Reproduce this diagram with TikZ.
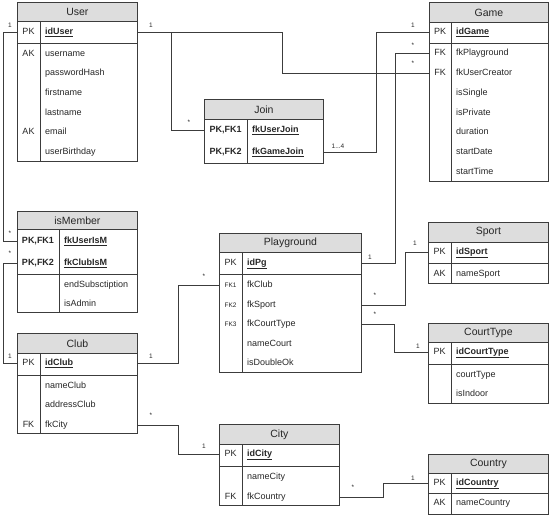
\documentclass[tikz,border=0pt]{standalone}
\usepackage{fontspec}
\setmainfont{Liberation Sans}
\usepackage{tikz}
\definecolor{headgray}{HTML}{DDDDDD}
\definecolor{linegray}{HTML}{3C3C3C}

\begin{document}
\begin{tikzpicture}
  [x=1pt,y=-1pt,every node/.style={inner sep=0pt,text=black!85},
   head/.style={draw=linegray,fill=headgray,anchor=north west,line width=0.8pt,font=\fontsize{10.5}{12}\selectfont},
   fld/.style={anchor=west,font=\fontsize{9}{10}\selectfont,text height=6.5pt,text depth=2pt},
   key/.style={font=\fontsize{9}{10}\selectfont,text height=6.5pt,text depth=2pt},
   fkey/.style={font=\fontsize{6.5}{7}\selectfont},
   mult/.style={font=\fontsize{6.5}{7}\selectfont},
   frame/.style={draw=linegray,line width=0.8pt},
   rel/.style={draw=linegray,line width=0.8pt}]
  \useasboundingbox (0,0) rectangle (553,515);

  % User
  \node[head,minimum width=120,minimum height=19] (user) at (17,2) {User};
  \draw[frame] (user.south west) rectangle (137,161);
  \draw[frame] (17,43) -- (137,43);
  \draw[frame] (40,21) -- (40,161);
  \node[key] (userk1) at (28.5,32) {PK};
  \node[fld] (user1) at (45,32) {\underline{\textbf{idUser}}};
  \node[key] (userk2) at (28.5,54) {AK};
  \node[fld] (user2) at (45,54) {username};
  \node[fld] (user3) at (45,73) {passwordHash};
  \node[fld] (user4) at (45,93) {firstname};
  \node[fld] (user5) at (45,113) {lastname};
  \node[key] (userk6) at (28.5,132) {AK};
  \node[fld] (user6) at (45,132) {email};
  \node[fld] (user7) at (45,152) {userBirthday};

  % Game
  \node[head,minimum width=119,minimum height=20] (game) at (429,2) {Game};
  \draw[frame] (game.south west) rectangle (548,181);
  \draw[frame] (429,43) -- (548,43);
  \draw[frame] (451,22) -- (451,181);
  \node[key] (gamek1) at (440,32) {PK};
  \node[fld] (game1) at (456,32) {\underline{\textbf{idGame}}};
  \node[key] (gamek2) at (440,53) {FK};
  \node[fld] (game2) at (456,53) {fkPlayground};
  \node[key] (gamek3) at (440,73) {FK};
  \node[fld] (game3) at (456,73) {fkUserCreator};
  \node[fld] (game4) at (456,93) {isSingle};
  \node[fld] (game5) at (456,113) {isPrivate};
  \node[fld] (game6) at (456,132) {duration};
  \node[fld] (game7) at (456,152) {startDate};
  \node[fld] (game8) at (456,172) {startTime};

  % Join
  \node[head,minimum width=119,minimum height=20] (join) at (204,99) {Join};
  \draw[frame] (join.south west) rectangle (323,163);
  \draw[frame] (247,119) -- (247,163);
  \node[key] (joink1) at (225.5,130) {\textbf{PK,FK1}};
  \node[fld] (join1) at (252,130) {\underline{\textbf{fkUserJoin}}};
  \node[key] (joink2) at (225.5,152) {\textbf{PK,FK2}};
  \node[fld] (join2) at (252,152) {\underline{\textbf{fkGameJoin}}};

  % isMember
  \node[head,minimum width=120,minimum height=18] (member) at (17,211) {isMember};
  \draw[frame] (member.south west) rectangle (137,312);
  \draw[frame] (17,274) -- (137,274);
  \draw[frame] (59,229) -- (59,312);
  \node[key] (memberk1) at (38,241) {\textbf{PK,FK1}};
  \node[fld] (member1) at (64,241) {\underline{\textbf{fkUserIsM}}};
  \node[key] (memberk2) at (38,263) {\textbf{PK,FK2}};
  \node[fld] (member2) at (64,263) {\underline{\textbf{fkClubIsM}}};
  \node[fld] (member3) at (64,285) {endSubsctiption};
  \node[fld] (member4) at (64,304) {isAdmin};

  % Club
  \node[head,minimum width=120,minimum height=20] (club) at (17,333) {Club};
  \draw[frame] (club.south west) rectangle (137,433);
  \draw[frame] (17,375) -- (137,375);
  \draw[frame] (40,353) -- (40,433);
  \node[key] (clubk1) at (28.5,363) {PK};
  \node[fld] (club1) at (45,363) {\underline{\textbf{idClub}}};
  \node[fld] (club2) at (45,386) {nameClub};
  \node[fld] (club3) at (45,405) {addressClub};
  \node[key] (clubk4) at (28.5,425) {FK};
  \node[fld] (club4) at (45,425) {fkCity};

  % Playground
  \node[head,minimum width=142,minimum height=19] (pg) at (219,233) {Playground};
  \draw[frame] (pg.south west) rectangle (361,372);
  \draw[frame] (219,274) -- (361,274);
  \draw[frame] (242,252) -- (242,372);
  \node[key] (pgk1) at (230.5,263) {PK};
  \node[fld] (pg1) at (247,263) {\underline{\textbf{idPg}}};
  \node[fkey] (pgk2) at (230.5,285) {FK1};
  \node[fld] (pg2) at (247,285) {fkClub};
  \node[fkey] (pgk3) at (230.5,305) {FK2};
  \node[fld] (pg3) at (247,305) {fkSport};
  \node[fkey] (pgk4) at (230.5,324) {FK3};
  \node[fld] (pg4) at (247,324) {fkCourtType};
  \node[fld] (pg5) at (247,344) {nameCourt};
  \node[fld] (pg6) at (247,363) {isDoubleOk};

  % Sport
  \node[head,minimum width=120,minimum height=20] (sport) at (428,222) {Sport};
  \draw[frame] (sport.south west) rectangle (548,283);
  \draw[frame] (428,263) -- (548,263);
  \draw[frame] (451,242) -- (451,283);
  \node[key] (sportk1) at (439.5,252) {PK};
  \node[fld] (sport1) at (456,252) {\underline{\textbf{idSport}}};
  \node[key] (sportk2) at (439.5,274) {AK};
  \node[fld] (sport2) at (456,274) {nameSport};

  % CourtType
  \node[head,minimum width=120,minimum height=19] (court) at (428,323) {CourtType};
  \draw[frame] (court.south west) rectangle (548,403);
  \draw[frame] (428,364) -- (548,364);
  \draw[frame] (451,342) -- (451,403);
  \node[key] (courtk1) at (439.5,352) {PK};
  \node[fld] (court1) at (456,352) {\underline{\textbf{idCourtType}}};
  \node[fld] (court2) at (456,375) {courtType};
  \node[fld] (court3) at (456,394) {isIndoor};

  % City
  \node[head,minimum width=120,minimum height=20] (city) at (219,424) {City};
  \draw[frame] (city.south west) rectangle (339,505);
  \draw[frame] (219,466) -- (339,466);
  \draw[frame] (242,444) -- (242,505);
  \node[key] (cityk1) at (230.5,454) {PK};
  \node[fld] (city1) at (247,454) {\underline{\textbf{idCity}}};
  \node[fld] (city2) at (247,477) {nameCity};
  \node[key] (cityk3) at (230.5,497) {FK};
  \node[fld] (city3) at (247,497) {fkCountry};

  % Country
  \node[head,minimum width=120,minimum height=19] (country) at (428,454) {Country};
  \draw[frame] (country.south west) rectangle (548,514);
  \draw[frame] (428,493) -- (548,493);
  \draw[frame] (451,473) -- (451,514);
  \node[key] (countryk1) at (439.5,483) {PK};
  \node[fld] (country1) at (456,483) {\underline{\textbf{idCountry}}};
  \node[key] (countryk2) at (439.5,503) {AK};
  \node[fld] (country2) at (456,503) {nameCountry};

  % relations
  \draw[rel] (user.west |- userk1) -- ++(-14,0) |- (member.west |- memberk1);
  \draw[rel] (member.west |- memberk2) -- ++(-14,0) |- (club.west |- clubk1);
  \draw[rel] (user.east |- user1) -- ++(34,0) |- (join.west |- joink1);
  \draw[rel] (user.east |- user1) -- ++(145,0) |- (game.west |- gamek3);
  \draw[rel] (join.east |- join2) -- ++(53,0) |- (game.west |- gamek1);
  \draw[rel] (game.west |- gamek2) -- ++(-34,0) |- (pg.east |- pg1);
  \draw[rel] (club.east |- club1) -- ++(41,0) |- (pg.west |- pgk2);
  \draw[rel] (pg.east |- pg3) -- ++(44,0) |- (sport.west |- sportk1);
  \draw[rel] (pg.east |- pg4) -- ++(33,0) |- (court.west |- courtk1);
  \draw[rel] (club.east |- club4) -- ++(41,0) |- (city.west |- cityk1);
  \draw[rel] (city.east |- city3) -- ++(44,0) |- (country.west |- countryk1);

  \node[mult] (m1) at (10,25) {1};
  \node[mult] (m2) at (10,233) {*};
  \node[mult] (m3) at (10,253) {*};
  \node[mult] (m4) at (10,356) {1};
  \node[mult] (m5) at (151,25) {1};
  \node[mult] (m6) at (189,122) {*};
  \node[mult] (m7) at (413,25) {1};
  \node[mult] (m8) at (413,45) {*};
  \node[mult] (m9) at (413,63) {*};
  \node[mult] (m10) at (338,146) {1...4};
  \node[mult] (m11) at (370,257) {1};
  \node[mult] (m12) at (151,356) {1};
  \node[mult] (m13) at (204,276) {*};
  \node[mult] (m14) at (375,295) {*};
  \node[mult] (m15) at (415,243) {1};
  \node[mult] (m16) at (375,314) {*};
  \node[mult] (m17) at (418,346) {1};
  \node[mult] (m18) at (151,415) {*};
  \node[mult] (m19) at (204,446) {1};
  \node[mult] (m20) at (353,487) {*};
  \node[mult] (m21) at (413,478) {1};

\end{tikzpicture}
\end{document}
